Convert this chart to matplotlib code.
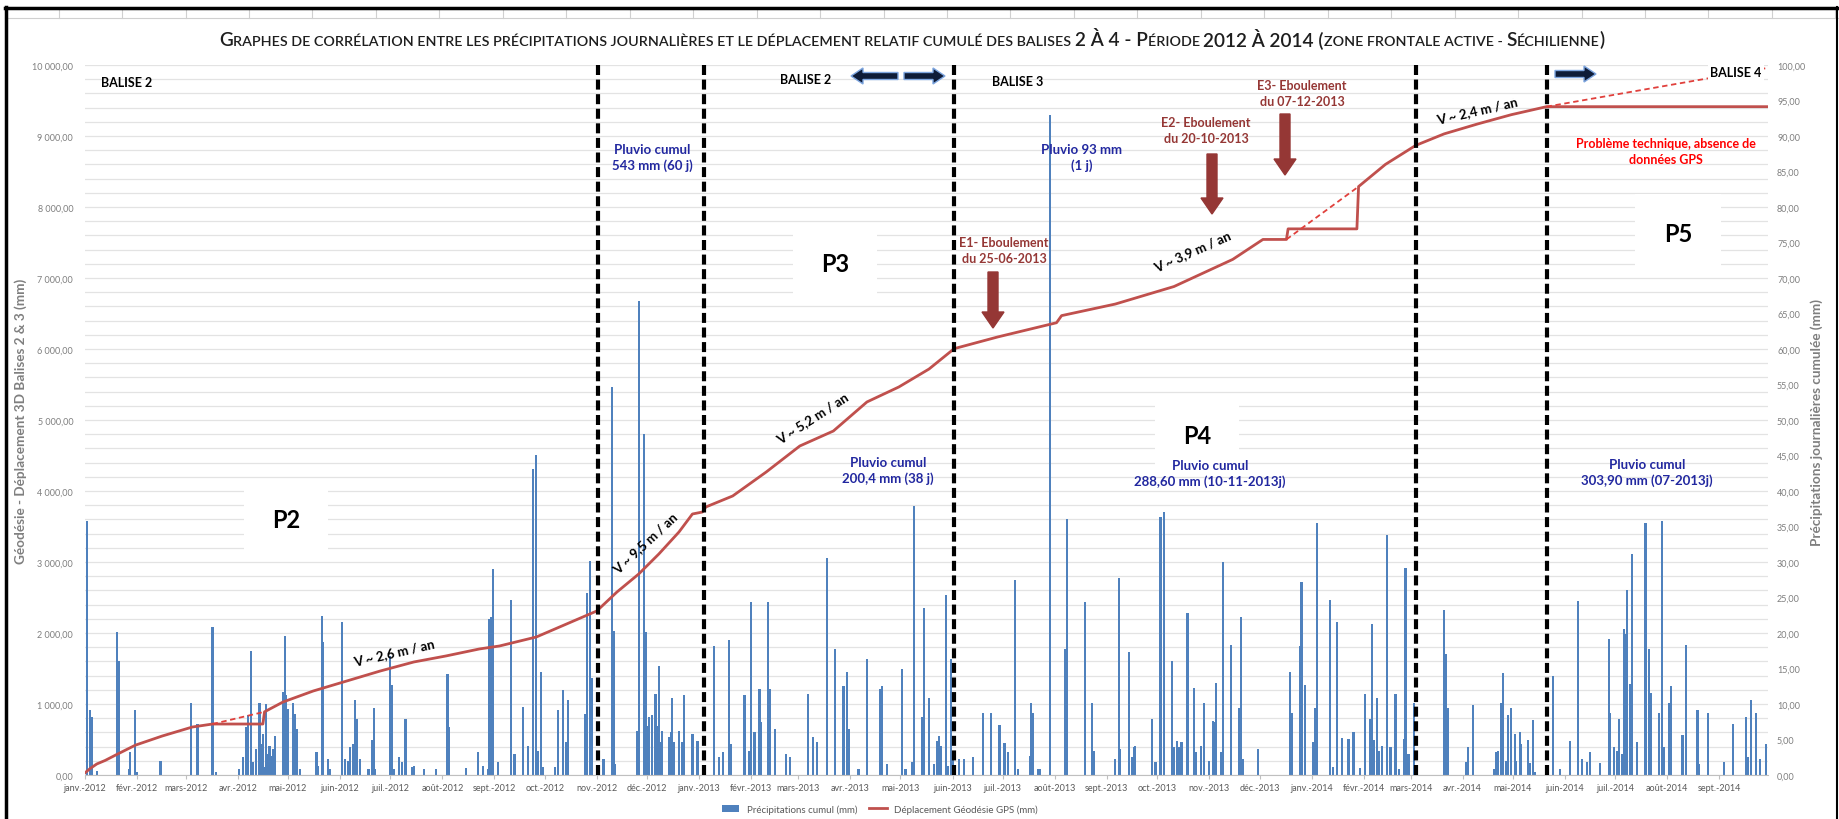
import numpy as np
import pandas as pd
import matplotlib
matplotlib.use("Agg")
import matplotlib.pyplot as plt
from matplotlib.ticker import FuncFormatter, MultipleLocator
from matplotlib.patches import FancyArrow, Patch
from matplotlib.lines import Line2D
from matplotlib.transforms import IdentityTransform

plt.rcParams['font.family'] = ['Lato', 'DejaVu Sans']

# --- donnees -------------------------------------------------------------
debut = pd.Timestamp("2012-01-01")
nb_jours = 1003

# precipitations journalieres (jour depuis le 01-01-2012, mm)
rain_jour = [1, 3, 4, 7, 19, 20, 26, 27, 30, 31, 45, 63, 67, 76, 78, 92, 94, 96, 97, 99,
             100, 102, 104, 105, 106, 107, 108, 109, 110, 111, 112, 113, 118, 119, 120, 121, 124, 125, 126, 128,
             138, 139, 141, 142, 145, 146, 153, 155, 157, 158, 160, 161, 162, 164, 169, 171, 172, 173, 182, 183,
             184, 187, 189, 191, 195, 196, 202, 209, 216, 217, 227, 234, 237, 240, 241, 242, 243, 246,
             254, 256, 261, 264, 267, 269, 270, 272, 273, 280, 282, 285, 287, 288, 298, 299, 301, 302, 305, 309,
             314, 315, 316, 329, 330, 333, 334, 335, 336, 338, 340, 341, 342, 343, 344, 348, 349, 350, 351, 354,
             356, 357, 362, 365, 375, 378, 380, 384, 385, 393, 396, 397, 399, 402, 403, 407, 408, 411, 418, 420,
             431, 434, 436, 442, 447, 452, 454, 455, 461, 466, 474, 475, 478, 487, 489, 493, 494, 499, 500,
             503, 506, 508, 509, 510, 513, 514, 516, 517, 521, 524, 529, 535, 540, 545, 548, 550, 554, 556, 563,
             564, 565, 568, 569, 575, 584, 585, 596, 600, 601, 614, 616, 617, 622, 624, 625, 626, 636, 638, 641,
             643, 648, 649, 651, 652, 653, 654, 657, 661, 662, 665, 667, 670, 672, 673, 674, 677, 678, 683, 688,
             689, 690, 699, 718, 719, 724, 725, 727, 732, 733, 734, 742, 744, 746,
             749, 753, 756, 760, 763, 766, 767, 768, 770, 771, 773, 776, 778, 781, 783, 786, 787, 788, 789, 792,
             810, 811, 812, 823, 824, 827, 840, 841, 842, 844, 845, 847, 848, 850, 852, 853, 855, 856, 860, 861,
             863, 864, 875, 879, 885, 890, 892, 895, 897, 903, 908, 909, 911, 913, 914, 916, 917, 918, 919, 921,
             922, 925, 930, 932, 933, 938, 940, 941, 944, 945, 952, 954, 961, 962, 967, 977, 982, 990, 991, 993,
             996, 998, 1002]
rain_mm = [35.8, 9.2, 8.1, 0.5, 20.2, 16.1, 0.9, 3.2, 9.2, 0.4, 2.0, 10.2, 7.2, 20.8, 0.4, 0.9, 2.5, 6.7, 8.4, 17.4,
           1.8, 3.7, 10.1, 4.4, 5.8, 1.1, 10.0, 3.0, 4.1, 2.7, 3.7, 5.5, 11.7, 19.6, 11.2, 9.3, 10.2, 8.6, 6.5, 0.9,
           3.2, 1.3, 22.4, 18.7, 2.3, 0.9, 21.6, 2.3, 2.0, 3.9, 4.4, 10.5, 7.9, 2.3, 0.9, 4.9, 9.4, 0.9, 16.8, 12.7,
           0.9, 2.5, 1.8, 7.9, 1.1, 1.3, 0.9, 0.9, 14.2, 6.8, 1.0, 3.3, 1.3, 0.9, 22.0, 22.2, 29.0, 1.8,
           24.6, 2.9, 9.6, 4.1, 43.1, 45.1, 3.4, 14.5, 1.1, 1.1, 9.2, 12.0, 4.6, 10.6, 8.6, 25.7, 30.1, 13.7, 0.4, 2.3,
           54.7, 20.3, 1.6, 6.2, 66.8, 48.0, 20.1, 6.9, 8.1, 8.4, 11.4, 6.9, 15.4, 4.6, 6.2, 5.3, 6.0, 10.9, 4.6, 6.2,
           4.6, 11.2, 5.8, 4.8, 18.2, 2.5, 3.2, 19.0, 4.4, 11.2, 3.4, 24.3, 6.0, 12.1, 7.4, 24.3, 12.1, 6.5, 2.9, 2.5,
           11.4, 5.3, 4.6, 30.5, 17.8, 12.6, 14.5, 6.5, 0.8, 16.3, 12.1, 12.6, 1.6, 14.9, 0.8, 1.8, 37.9, 8.1, 23.5,
           10.9, 1.6, 4.8, 5.5, 4.1, 25.3, 1.3, 16.3, 2.3, 2.3, 2.3, 2.5, 8.7, 8.8, 7.0, 4.5, 3.3, 27.5, 0.9, 2.7,
           10.2, 8.8, 0.9, 0.9, 93.0, 17.7, 36.1, 24.4, 10.1, 3.4, 2.3, 27.7, 3.7, 17.3, 2.5, 3.9, 4.1, 7.9, 1.8, 36.4,
           37.0, 16.1, 3.9, 4.8, 3.9, 4.6, 4.6, 22.8, 12.3, 3.2, 4.1, 10.1, 2.0, 7.6, 7.4, 12.9, 3.2, 30.0, 18.3, 9.4,
           22.2, 2.3, 3.7, 14.5, 8.8, 18.1, 27.2, 12.7, 4.6, 9.5, 35.5, 24.6, 1.1, 21.6,
           5.2, 5.1, 6.0, 1.0, 11.4, 7.9, 21.2, 4.9, 10.9, 3.4, 4.1, 33.8, 3.9, 11.4, 0.9, 5.1, 29.2, 3.0, 3.0, 10.2,
           23.3, 17.0, 9.4, 1.8, 3.9, 9.8, 0.8, 3.3, 3.4, 10.1, 14.3, 2.0, 8.5, 9.5, 5.8, 2.0, 6.1, 4.4, 5.0, 1.7,
           7.7, 0.4, 13.9, 0.8, 4.8, 24.5, 2.3, 1.8, 3.2, 1.7, 19.2, 8.8, 3.9, 3.4, 7.9, 3.0, 20.6, 19.9, 26.0, 12.8,
           31.1, 4.6, 35.5, 17.7, 11.6, 8.8, 35.8, 3.9, 10.2, 12.6, 5.6, 18.3, 9.1, 1.6, 8.8, 1.8, 7.2, 8.2, 2.5, 10.6,
           8.8, 2.3, 4.4]

# deplacement geodesie GPS cumule (jour, mm)
disp_jour = [0, 3, 7, 12, 19, 30, 46, 64, 76, 106, 107, 118, 136, 156, 176, 196, 215, 235, 247, 269,
             287, 305, 317, 330, 342, 354, 362, 368, 370, 386, 406, 426, 446, 466, 485, 503, 518, 544, 579, 582,
             614, 649, 684, 702, 716, 717, 758, 759, 775, 793, 810, 830, 850, 871, 1003]
disp_mm = [30, 90, 155, 205, 290, 420, 549, 676, 718, 718, 890, 1028, 1183, 1324, 1465, 1592, 1676, 1775, 1817, 1944,
           2127, 2310, 2577, 2831, 3113, 3423, 3676, 3704, 3775, 3930, 4268, 4634, 4845, 5254, 5465, 5718, 6005, 6170, 6370, 6470,
           6633, 6880, 7262, 7543, 7543, 7692, 7692, 8288, 8600, 8867, 9030, 9170, 9300, 9413, 9413]

# tendances (pointilles)
tend1_jour, tend1_mm = [76, 107], [718, 890]
tend2_jour, tend2_mm = [716, 759], [7543, 8288]
tend3_jour, tend3_mm = [871, 1003], [9413, 9960]

# limites des periodes P2..P5
limites = ["2012-11-02", "2013-01-04", "2013-06-02", "2014-03-04", "2014-05-21"]

mois = ["janv.", "févr.", "mars", "avr.", "mai", "juin", "juil.", "août", "sept.", "oct.", "nov.", "déc."]

# --- figure ---------------------------------------------------------------
W, H = 1840, 820
fig = plt.figure(figsize=(W / 100, H / 100), dpi=100)
fig.patch.set_facecolor("white")


def fx(x):
    return x / W


def fy(y):
    return 1 - y / H


ax2 = fig.add_axes([fx(85), fy(776), fx(1768) - fx(85), fy(66) - fy(776)])
ax = ax2.twinx()
ax.yaxis.tick_left()
ax.yaxis.set_label_position("left")
ax2.yaxis.tick_right()
ax.set_zorder(ax2.get_zorder() + 1)
ax.patch.set_visible(False)
ax.xaxis.set_visible(True)

rain_dates = debut + pd.to_timedelta(rain_jour, unit="D")
ax2.bar(rain_dates, rain_mm, width=1.3, color="#4F81BD", linewidth=0, zorder=3)

d = lambda j: debut + pd.to_timedelta(j, unit="D")
ax.plot(d(disp_jour), disp_mm, color="#C0504D", lw=2.0, zorder=5)
for tj, tm in [(tend1_jour, tend1_mm), (tend2_jour, tend2_mm), (tend3_jour, tend3_mm)]:
    ax.plot(d(tj), tm, color="#E0403C", lw=1.3, ls=(0, (3, 2)), zorder=5)

for lim in limites:
    l = ax.axvline(pd.Timestamp(lim), ymin=0, ymax=1.003, color="black", lw=3.0, zorder=6, clip_on=False)
    l.set_dashes((2.4, 1.1))

ax.set_xlim(debut, d(nb_jours))
ax.set_ylim(0, 10000)
ax2.set_ylim(0, 100)

# grille (pas de 200 mm sur l'axe gauche = 2 mm sur l'axe droit)
ax2.yaxis.set_major_locator(MultipleLocator(5))
ax2.yaxis.set_minor_locator(MultipleLocator(2))
ax2.yaxis.remove_overlapping_locs = False
ax2.grid(which="minor", axis="y", color="#E3E3E3", lw=0.9, zorder=0)
ax2.set_axisbelow(True)
ax.yaxis.set_major_locator(MultipleLocator(1000))

fmt = lambda v, p: f"{v:,.2f}".replace(",", " ").replace(".", ",")
ax.yaxis.set_major_formatter(FuncFormatter(fmt))
ax2.yaxis.set_major_formatter(FuncFormatter(fmt))

tick_dates = pd.date_range("2012-01-01", "2014-09-01", freq="MS")
ax.set_xticks(tick_dates)
ax.set_xticklabels([f"{mois[t.month - 1]}-{t.year}" for t in tick_dates])
ax2.tick_params(axis="x", which="both", bottom=False, labelbottom=False)

ax.tick_params(axis="y", length=0, pad=8.5, labelsize=6.5, labelcolor="#7F7F7F")
ax2.tick_params(axis="y", which="both", length=0, pad=6.5, labelsize=6.5, labelcolor="#7F7F7F")
ax.tick_params(axis="x", bottom=True, labelbottom=True, length=3, width=0.8, color="#BFBFBF",
               pad=3, labelsize=6.5, labelcolor="#595959")

for a in (ax, ax2):
    for s in ("top", "left", "right"):
        a.spines[s].set_visible(False)
ax.spines["bottom"].set_visible(True)
ax.spines["bottom"].set_color("#BFBFBF")
ax2.spines["bottom"].set_visible(False)

# axes titles
fig.text(fx(21), fy(421), "Géodésie - Déplacement 3D Balises 2 & 3 (mm)", rotation=90,
         ha="center", va="center", fontsize=9.8, fontweight="bold", color="#7F7F7F")
fig.text(fx(1817), fy(422), "Précipitations journalières cumulée (mm)", rotation=90,
         ha="center", va="center", fontsize=9.8, fontweight="bold", color="#7F7F7F")

# --- titre en petites capitales ---------------------------------------------
title_parts = [("G", True),
               ("RAPHES DE CORRÉLATION ENTRE LES PRÉCIPITATIONS JOURNALIÈRES ET LE DÉPLACEMENT RELATIF CUMULÉ DES BALISES ", False),
               ("2 À 4 - P", True), ("ÉRIODE ", False), ("2012 À 2014 (", True),
               ("ZONE FRONTALE ACTIVE - ", False), ("S", True), ("ÉCHILIENNE", False), (")", True)]
arts = [fig.text(0, fy(46), s, fontsize=(14 if big else 10.5), va="baseline", ha="left",
                 color="#1E1E1E", fontweight="semibold") for s, big in title_parts]
renderer = fig.canvas.get_renderer()
widths = [a.get_window_extent(renderer).width for a in arts]
scale = 1385 / sum(widths)
for a in arts:
    a.set_fontsize(a.get_fontsize() * scale)
widths = [a.get_window_extent(renderer).width for a in arts]
x = (W - sum(widths)) / 2 - 8
for a, w in zip(arts, widths):
    a.set_x(fx(x))
    x += w

# --- annotations ------------------------------------------------------------
txt = dict(ha="center", va="center", fontweight="bold")
for s, x, y in [("BALISE 2", 127, 83), ("BALISE 2", 806, 80), ("BALISE 3", 1018, 82)]:
    fig.text(fx(x), fy(y), s, fontsize=9, color="black", **txt)
fig.text(fx(1736), fy(73), "BALISE 4", fontsize=9, color="black",
         bbox=dict(boxstyle="square,pad=0.2", fc="white", ec="none"), **txt)

for s, x, y in [("P2", 286, 521), ("P3", 835, 264), ("P4", 1197, 437), ("P5", 1678, 235)]:
    fig.text(fx(x), fy(y), s, fontsize=17, color="black",
             bbox=dict(boxstyle="square,pad=1.2", fc="white", ec="none"), zorder=2, **txt)

for s, x, y, r in [("V ~ 2,6 m / an", 394, 653, 13), ("V ~ 9,5 m / an", 645, 543, 43),
                   ("V ~ 5,2 m / an", 813, 418, 33), ("V ~ 3,9 m / an", 1192, 252, 24),
                   ("V ~ 2,4 m / an", 1477, 111, 13)]:
    fig.text(fx(x), fy(y), s, fontsize=9.5, color="black", rotation=r, rotation_mode="anchor", **txt)

bleu = "#2228A0"
for s, x, y in [("Pluvio cumul\n543 mm (60 j)", 652, 158), ("Pluvio 93 mm\n(1 j)", 1082, 158),
                ("Pluvio cumul\n200,4 mm (38 j)", 888, 471), ("Pluvio cumul\n288,60 mm (10-11-2013j)", 1210, 474),
                ("Pluvio cumul\n303,90 mm (07-2013j)", 1647, 473)]:
    fig.text(fx(x), fy(y), s, fontsize=9.5, color=bleu, linespacing=1.4, **txt)

rouge = "#953735"
for s, x, y in [("E1- Eboulement\ndu 25-06-2013", 1004, 251), ("E2- Eboulement\ndu 20-10-2013", 1206, 131),
                ("E3- Eboulement\ndu 07-12-2013", 1302, 94)]:
    fig.text(fx(x), fy(y), s, fontsize=9, color=rouge, linespacing=1.4, **txt)

fig.text(fx(1666), fy(152), "Problème technique, absence de\ndonnées GPS", fontsize=9, color="#FF0000",
         linespacing=1.4, **txt)

for x, y0, y1 in [(993, 273, 329), (1212, 155, 215), (1285, 115, 176)]:
    fig.add_artist(FancyArrow(x, H - y0, 0, -(y1 - y0), width=10, head_width=22, head_length=16,
                              length_includes_head=True, fc=rouge, ec=rouge, transform=IdentityTransform()))

for x0, x1, y in [(898, 851, 77), (904, 945, 77), (1555, 1596, 75)]:
    fig.add_artist(FancyArrow(x0, H - y, x1 - x0, 0, width=7, head_width=16, head_length=12,
                              length_includes_head=True, fc="#0E1C38", ec="#7EA6E0", lw=1,
                              transform=IdentityTransform()))

# legende
handles = [Patch(fc="#4F81BD", ec="none"), Line2D([], [], color="#C0504D", lw=2)]
fig.legend(handles, ["Précipitations cumul (mm)", "Déplacement Géodésie GPS (mm)"], ncol=2,
           loc="center", bbox_to_anchor=(fx(880), fy(810)), frameon=False, fontsize=7,
           labelcolor="#595959", handlelength=1.8, handleheight=0.7, columnspacing=1.2)

# cadre style feuille excel
for k in range(29):
    xk = 58.7 + 63.45 * k
    fig.add_artist(Line2D([fx(xk), fx(xk)], [fy(10), fy(19)], color="#D0D0D0", lw=0.8))
fig.add_artist(Line2D([fx(5), fx(W)], [fy(19), fy(19)], color="#D0D0D0", lw=0.8))
fig.add_artist(Line2D([fx(5), fx(W)], [fy(9), fy(9)], color="black", lw=2.5))
fig.add_artist(Line2D([fx(6), fx(6)], [fy(8), 0], color="black", lw=2.5))
fig.add_artist(Line2D([fx(1837), fx(1837)], [fy(8), 0], color="black", lw=1.5))

fig.savefig("out.png", dpi=100)
